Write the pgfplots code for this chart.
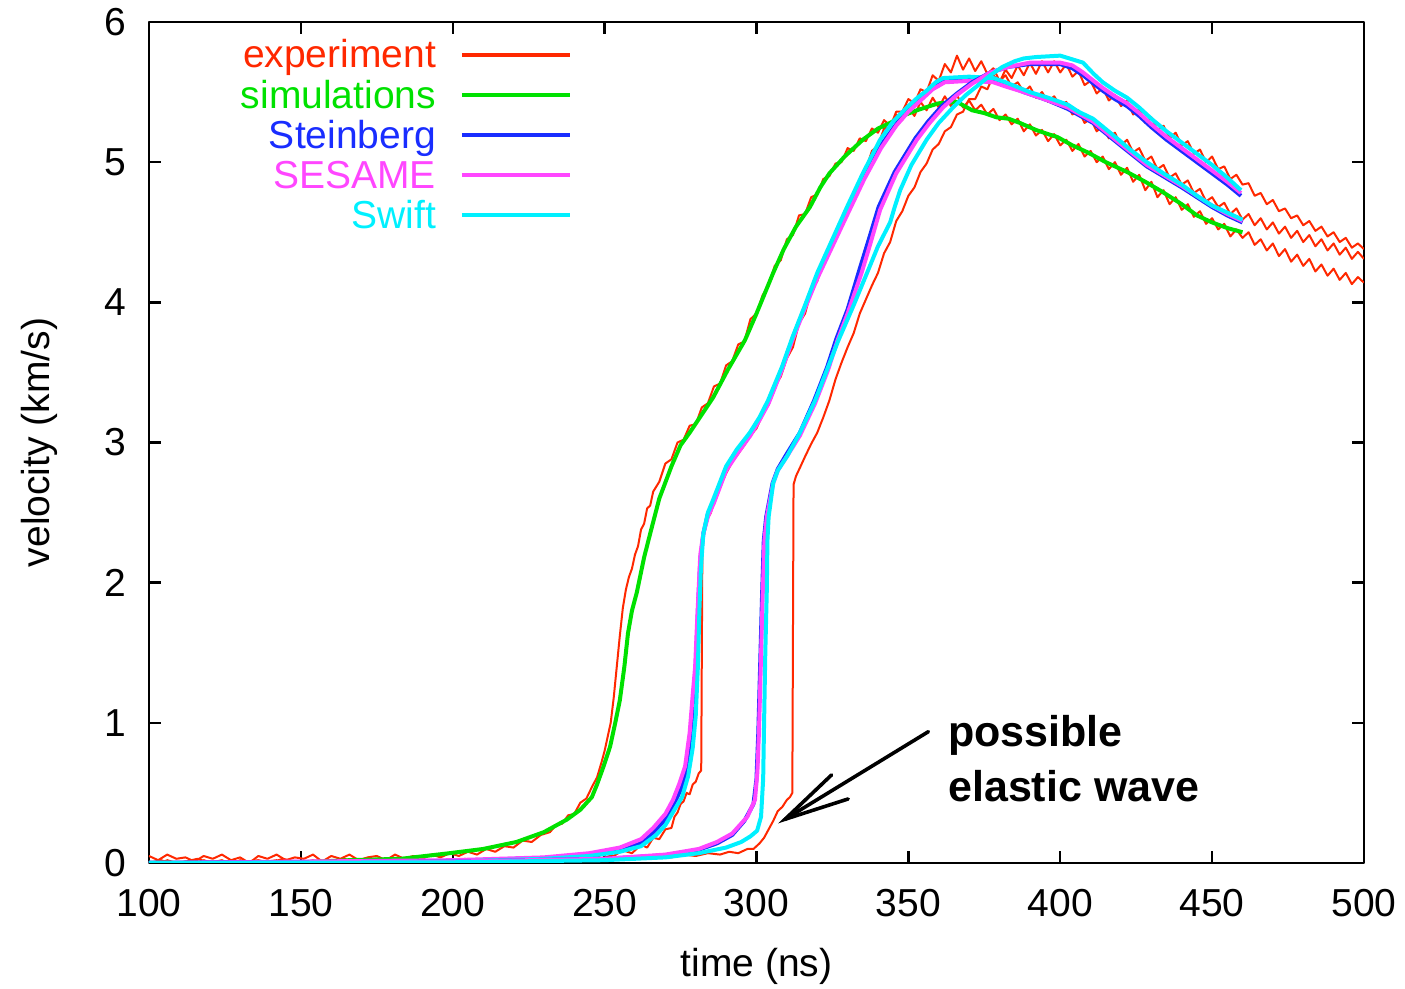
\documentclass[border=0pt]{standalone}
\usepackage{fontspec}
\setmainfont{Liberation Sans}
\usepackage{pgfplots}
\pgfplotsset{compat=1.18}
\definecolor{expred}{RGB}{255,40,0}
\definecolor{simgreen}{RGB}{0,225,0}
\definecolor{steinblue}{RGB}{25,45,255}
\definecolor{sesmag}{RGB}{255,70,255}
\definecolor{swcyan}{RGB}{0,240,255}
\newcommand{\lf}{\fontsize{19.5}{23}\selectfont}
\newcommand{\af}{\fontsize{21.5}{26}\selectfont\bfseries}
\begin{document}
\begin{tikzpicture}
\begin{axis}[
  scale only axis, width=607.5pt, height=420.5pt,
  xmin=100, xmax=500, ymin=0, ymax=6,
  xtick={100,150,...,500}, ytick={0,1,...,6},
  axis line style={line width=1.2pt},
  every tick/.style={black, line width=1.2pt},
  major tick length=6pt,
  tick align=inside, xtick pos=both, ytick pos=both,
  /pgf/number format/assume math mode=true,
  ticklabel style={font=\lf},
  xticklabel style={yshift=-9.5pt},
  yticklabel style={xshift=-8pt},
  label style={font=\lf},
  xlabel={time (ns)}, ylabel={velocity (km/s)},
  xlabel style={at={(axis description cs:0.5,-0.1345)}, anchor=base},
  ylabel style={at={(axis description cs:-0.0815,0.5)}, anchor=base},
  no markers, line join=round,
]
% ---- experiment A ----
\addplot[expred, line width=1pt] coordinates {
(100,0.05)(103,0.02)(106,0.06)(109,0.03)(112,0.04)(115,0.01)(118,0.05)(121,0.03)(124,0.06)(127,0.02)(130,0.04)(133,0.00)(136,0.05)(139,0.03)(142,0.06)(145,0.02)(148,0.04)(151,0.03)(154,0.06)(157,0.01)(160,0.05)(163,0.03)(166,0.06)(169,0.02)(172,0.04)(175,0.05)(178,0.02)(181,0.06)(184,0.03)(187,0.05)(190,0.03)(193,0.06)(196,0.04)(199,0.07)
(202,0.05)(205,0.08)(208,0.06)(211,0.10)(214,0.08)(217,0.12)(220,0.11)(223,0.16)(226,0.15)(229,0.20)(232,0.22)(234,0.27)(236,0.28)(238,0.34)(240,0.35)(242,0.43)(244,0.46)(246,0.55)(247.5,0.61)(249,0.72)(250,0.80)(251,0.90)(252,1.00)(253,1.18)(254,1.40)(255,1.62)(256,1.82)(257,1.95)(258,2.04)(259,2.10)(260,2.20)(261,2.26)(262,2.38)(263,2.42)(264,2.53)(265,2.55)(266,2.65)(268,2.72)(270,2.85)(272,2.88)(274,3.00)(276,3.02)(278,3.12)(280,3.13)(282,3.25)(284,3.28)(286,3.40)(288,3.42)(290,3.55)(292,3.58)(294,3.70)(296,3.72)(298,3.88)(300,3.92)
(302,4.05)(304,4.12)(306,4.26)(308,4.30)(310,4.45)(312,4.48)(314,4.62)(316,4.63)(318,4.75)(320,4.77)(322,4.88)(324,4.90)(326,4.99)(328,5.00)(330,5.10)(332,5.08)(334,5.17)(336,5.15)(338,5.24)(340,5.21)(342,5.30)(344,5.26)(346,5.34)(348,5.30)(350,5.39)(352,5.33)(354,5.43)(356,5.37)(358,5.46)(360,5.39)(362,5.47)(364,5.40)(366,5.48)(368,5.39)(370,5.44)(372,5.37)(374,5.41)(376,5.34)(378,5.38)(380,5.30)(382,5.34)(384,5.27)(386,5.31)(388,5.22)(390,5.27)(392,5.19)(394,5.23)(396,5.15)(398,5.20)(400,5.12)
(402,5.16)(404,5.08)(406,5.13)(408,5.04)(410,5.08)(412,5.00)(414,5.04)(416,4.95)(418,5.00)(420,4.91)(422,4.96)(424,4.86)(426,4.91)(428,4.80)(430,4.86)(432,4.75)(434,4.80)(436,4.70)(438,4.75)(440,4.66)(442,4.70)(444,4.61)(446,4.65)(448,4.56)(450,4.60)(452,4.52)(454,4.56)(456,4.47)(458,4.52)(460,4.46)(462,4.50)(464,4.41)(466,4.45)(468,4.37)(470,4.42)(472,4.33)(474,4.38)(476,4.29)(478,4.34)(480,4.26)(482,4.31)(484,4.22)(486,4.27)(488,4.19)(490,4.24)(492,4.16)(494,4.21)(496,4.13)(498,4.18)(500,4.14)
};
% ---- experiment B ----
\addplot[expred, line width=1pt] coordinates {
(100,0.01)(103,-0.01)(106,0.02)(109,0.00)(112,0.01)(115,-0.02)(118,0.02)(121,0.00)(124,0.01)(127,-0.01)(130,0.02)(133,0.00)(136,-0.02)(139,0.01)(142,0.02)(145,-0.01)(148,0.01)(151,0.00)(154,0.02)(157,-0.02)(160,0.01)(163,0.00)(166,0.02)(169,-0.01)(172,0.01)(175,0.00)(178,0.02)(181,-0.01)(184,0.01)(187,0.00)(190,0.02)(193,-0.01)(196,0.02)(199,0.00)
(202,0.02)(205,0.01)(208,0.03)(211,0.00)(214,0.02)(217,0.01)(220,0.03)(223,0.01)(226,0.03)(229,0.02)(232,0.04)(235,0.02)(238,0.05)(241,0.03)(244,0.05)(247,0.04)(250,0.07)(253,0.05)(256,0.09)(259,0.07)(262,0.13)(264,0.11)(266,0.18)(268,0.17)(270,0.24)(272,0.25)(273,0.33)(274,0.36)(275,0.42)(276,0.44)(277,0.50)(278,0.49)(279,0.56)(280,0.58)(281,0.64)(281.8,0.66)(282.2,2.30)(283,2.38)(284,2.46)(285,2.50)(286,2.58)(287,2.62)(288,2.68)(290,2.78)(292,2.86)(294,2.92)(296,2.98)(298,3.05)(300,3.10)
(302,3.20)(304,3.27)(306,3.40)(308,3.47)(310,3.60)(312,3.68)(314,3.85)(316,3.92)(318,4.08)(320,4.15)(322,4.28)(324,4.35)(326,4.48)(328,4.55)(330,4.68)(332,4.72)(334,4.85)(336,4.95)(338,5.08)(340,5.12)(342,5.24)(344,5.25)(346,5.36)(348,5.36)(350,5.45)(352,5.42)(354,5.52)(356,5.50)(358,5.62)(360,5.58)(362,5.70)(364,5.64)(366,5.76)(368,5.66)(370,5.74)(372,5.65)(374,5.72)(376,5.63)(378,5.67)(380,5.58)(382,5.62)(384,5.54)(386,5.57)(388,5.50)(390,5.54)(392,5.46)(394,5.50)(396,5.43)(398,5.47)(400,5.40)
(402,5.43)(404,5.34)(406,5.37)(408,5.28)(410,5.31)(412,5.22)(414,5.26)(416,5.17)(418,5.21)(420,5.12)(422,5.16)(424,5.07)(426,5.10)(428,5.01)(430,5.04)(432,4.95)(434,4.98)(436,4.89)(438,4.92)(440,4.84)(442,4.87)(444,4.78)(446,4.81)(448,4.72)(450,4.75)(452,4.68)(454,4.71)(456,4.63)(458,4.67)(460,4.59)(462,4.63)(464,4.55)(466,4.60)(468,4.52)(470,4.57)(472,4.49)(474,4.54)(476,4.46)(478,4.51)(480,4.43)(482,4.48)(484,4.40)(486,4.45)(488,4.37)(490,4.42)(492,4.34)(494,4.39)(496,4.31)(498,4.36)(500,4.31)
};
% ---- experiment C ----
\addplot[expred, line width=1pt] coordinates {
(100,0.00)(104,0.02)(108,-0.01)(112,0.01)(116,0.03)(120,0.00)(124,0.02)(128,-0.02)(132,0.01)(136,0.02)(140,0.00)(144,0.03)(148,0.01)(152,-0.01)(156,0.02)(160,0.00)(164,0.03)(168,0.01)(172,0.02)(176,-0.01)(180,0.02)(184,0.00)(188,0.03)(192,0.01)(196,0.02)(200,0.00)
(204,0.03)(208,0.01)(212,0.03)(216,0.01)(220,0.02)(224,0.04)(228,0.02)(232,0.03)(236,0.05)(240,0.02)(244,0.04)(248,0.03)(252,0.05)(256,0.03)(260,0.05)(264,0.04)(268,0.06)(272,0.04)(276,0.06)(280,0.05)(284,0.07)(288,0.06)(291,0.08)(294,0.07)(297,0.10)(299,0.10)(301,0.14)(302.5,0.18)(304,0.24)(305.5,0.30)(307,0.37)(308.5,0.40)(310,0.45)(311,0.47)(311.8,0.50)(312.2,2.70)(313,2.76)(314.3,2.82)(316,2.90)(318,2.99)(320,3.07)(322,3.18)(324,3.30)(326,3.45)(328,3.57)(330,3.68)(332,3.78)(334,3.92)(336,4.02)(338,4.12)(340,4.21)(342,4.35)(344,4.43)(346,4.58)(348,4.65)(350,4.76)
(352,4.82)(354,4.93)(356,4.99)(358,5.09)(360,5.13)(362,5.22)(364,5.25)(366,5.34)(368,5.36)(370,5.45)(372,5.45)(374,5.54)(376,5.52)(378,5.62)(380,5.57)(382,5.66)(384,5.60)(386,5.69)(388,5.62)(390,5.71)(392,5.63)(394,5.72)(396,5.64)(398,5.72)(400,5.64)(402,5.70)(404,5.61)(406,5.65)(408,5.55)(410,5.58)(412,5.49)(414,5.53)(416,5.44)(418,5.48)(420,5.40)(422,5.44)(424,5.34)(426,5.38)(428,5.28)(430,5.32)(432,5.23)(434,5.26)(436,5.17)(438,5.21)(440,5.12)(442,5.15)(444,5.06)(446,5.09)(448,5.00)(450,5.04)
(452,4.95)(454,4.97)(456,4.88)(458,4.91)(460,4.84)(462,4.85)(464,4.76)(466,4.78)(468,4.70)(470,4.73)(472,4.65)(474,4.67)(476,4.60)(478,4.62)(480,4.55)(482,4.58)(484,4.51)(486,4.54)(488,4.47)(490,4.50)(492,4.43)(494,4.46)(496,4.39)(498,4.42)(500,4.38)
};
% ---- simulation A (green) ----
\addplot[simgreen, line width=2pt] coordinates {
(100,0)(150,0.005)(166,0.02)(183,0.03)(199,0.07)(210,0.10)(221,0.15)(230,0.22)(237.6,0.31)(242,0.38)(245.8,0.47)(247.5,0.56)(249.5,0.68)(251.8,0.83)(253.5,1.0)(255,1.16)(256.5,1.4)(257.7,1.64)(259,1.8)(260.6,1.93)(263,2.18)(265,2.35)(268,2.6)(272,2.83)(275,2.98)(278,3.07)(282,3.2)(285.7,3.32)(290.6,3.52)(296.2,3.73)(300,3.92)(305.5,4.21)(309,4.38)(313,4.54)(317.6,4.68)(321,4.82)(324,4.92)(329,5.04)(335,5.16)(340,5.24)(344,5.28)(348,5.33)(352.8,5.37)(357,5.40)(360,5.42)(366,5.43)(371,5.37)(375,5.35)(379,5.32)(383,5.31)(386.7,5.28)(392,5.23)(396,5.20)(399,5.18)(404,5.12)(409,5.07)(415,5.00)(422,4.93)(428,4.86)(433.5,4.79)(440,4.70)(445,4.62)(450,4.57)(455,4.53)(460,4.50)
};
% ---- Steinberg B (blue) ----
\addplot[steinblue, line width=2pt] coordinates {
(100,0)(200,0.015)(230,0.035)(245,0.06)(255,0.095)(262,0.14)(266,0.22)(270,0.31)(272.5,0.41)(275,0.52)(277,0.67)(278.5,0.88)(279.5,1.2)(280.2,1.5)(280.8,1.85)(281.5,2.15)(282.5,2.35)(284,2.49)(286,2.58)(290,2.82)(294,2.94)(298,3.06)(301,3.17)(304,3.29)(308.4,3.53)(312,3.75)(316,3.97)(320,4.19)(325,4.43)(330,4.66)(335.5,4.90)(341,5.12)(346,5.27)(350,5.37)(354,5.45)(358,5.53)(362,5.58)(370,5.59)(378,5.58)(382,5.55)(388,5.50)(396,5.44)(402.5,5.38)(410.8,5.28)(418.7,5.14)(428.5,4.97)(440,4.82)(450,4.68)(455,4.62)(460,4.57)
};
% ---- SESAME B (magenta) ----
\addplot[sesmag, line width=2pt] coordinates {
(100,0)(200,0.02)(230,0.04)(245,0.07)(255,0.11)(262,0.17)(266,0.25)(270,0.35)(272.5,0.45)(274.5,0.56)(276.5,0.69)(278,0.93)(279,1.2)(279.8,1.4)(280.3,1.65)(280.8,1.88)(281.5,2.2)(282.5,2.35)(284,2.47)(286,2.57)(290,2.8)(294,2.93)(298,3.05)(301,3.16)(304,3.28)(308.4,3.52)(312,3.74)(316,3.96)(320,4.17)(325,4.40)(330,4.63)(335.5,4.88)(341,5.1)(346,5.26)(350,5.36)(354,5.44)(358,5.52)(362,5.57)(370,5.58)(378,5.57)(382,5.54)(388,5.50)(396,5.44)(402.5,5.39)(410.8,5.29)(418.7,5.15)(428.5,4.98)(440,4.83)(450,4.69)(455,4.63)(460,4.58)
};
% ---- Swift B (cyan) ----
\addplot[swcyan, line width=2pt] coordinates {
(100,0)(150,0.0)(200,0.01)(230,0.03)(245,0.05)(255,0.08)(262,0.12)(267,0.2)(270,0.27)(273,0.38)(275.5,0.47)(277.5,0.62)(279,0.82)(280,1.05)(280.7,1.4)(281.2,1.8)(281.7,2.1)(282.5,2.35)(284,2.5)(285.7,2.59)(290,2.83)(293.5,2.95)(297.8,3.07)(301,3.18)(303.8,3.30)(308.4,3.54)(312,3.76)(316,3.98)(320,4.21)(325,4.45)(329.8,4.68)(335,4.92)(340.7,5.16)(345,5.29)(349.5,5.39)(353,5.46)(356,5.51)(359,5.57)(361.4,5.60)(370,5.61)(378,5.60)(382,5.57)(387.7,5.52)(390,5.50)(396,5.46)(402.5,5.41)(406,5.36)(410.8,5.31)(418.7,5.17)(423,5.09)(428.5,5.00)(434,4.92)(440,4.84)(445,4.76)(450,4.69)(455,4.64)(460,4.59)
};
% ---- Steinberg C (blue) ----
\addplot[steinblue, line width=2pt] coordinates {
(100,0)(200,0.01)(250,0.03)(270,0.055)(281,0.095)(287,0.14)(292,0.2)(296,0.3)(299,0.42)(300,0.6)(300.6,0.93)(301.2,1.4)(301.8,1.88)(302.4,2.3)(303.2,2.47)(305.3,2.71)(307,2.81)(310,2.92)(314.3,3.07)(319,3.30)(323.3,3.54)(326.3,3.74)(330,3.95)(334,4.24)(337,4.45)(340.2,4.68)(345.5,4.93)(352.3,5.17)(356.5,5.29)(361,5.40)(366,5.49)(371,5.57)(377,5.64)(383,5.68)(390,5.70)(400,5.70)(404,5.67)(407.5,5.62)(411,5.56)(414,5.51)(418,5.45)(422,5.40)(426,5.33)(430,5.25)(435,5.16)(440,5.08)(445,5.00)(450,4.92)(455,4.84)(459.5,4.76)
};
% ---- SESAME C (magenta) ----
\addplot[sesmag, line width=2pt] coordinates {
(100,0)(200,0.01)(250,0.03)(270,0.06)(281,0.1)(287,0.15)(292,0.21)(297,0.33)(299.5,0.45)(300.3,0.65)(300.8,0.93)(301.4,1.4)(302,1.88)(302.6,2.3)(303.4,2.47)(305.5,2.71)(307,2.8)(310,2.9)(314.3,3.05)(319.3,3.28)(323.6,3.52)(326.7,3.73)(330,3.92)(334.6,4.21)(337.5,4.42)(340.7,4.66)(346,4.92)(352.8,5.16)(357,5.28)(361.4,5.39)(366,5.48)(371,5.56)(377,5.64)(383,5.68)(390,5.71)(400,5.71)(404,5.69)(407.5,5.64)(411,5.58)(414,5.53)(418,5.47)(422,5.42)(426,5.35)(430,5.27)(435,5.18)(440,5.10)(445,5.02)(450,4.94)(455,4.86)(459.5,4.78)
};
% ---- Swift C (cyan) ----
\addplot[swcyan, line width=2pt] coordinates {
(100,0)(200,0.005)(250,0.02)(270,0.04)(281,0.07)(290,0.11)(295,0.15)(298,0.19)(300.2,0.23)(301.5,0.33)(302.2,0.6)(302.5,1.0)(302.9,1.5)(303.4,1.95)(303.6,2.3)(304,2.47)(305.5,2.71)(307,2.8)(310,2.9)(314.3,3.07)(319.3,3.30)(323.6,3.54)(326.8,3.72)(328,3.78)(332,3.98)(336.4,4.21)(340,4.40)(344,4.57)(345.5,4.68)(347.3,4.80)(351,4.98)(356,5.16)(360,5.28)(364.7,5.39)(369,5.48)(373.6,5.56)(377,5.62)(381,5.68)(385,5.72)(388,5.74)(392,5.75)(400,5.76)(403,5.74)(407.5,5.71)(411,5.63)(414,5.57)(418,5.51)(422,5.46)(426,5.39)(430,5.31)(435,5.22)(440,5.14)(445,5.06)(450,4.98)(455,4.89)(459.5,4.80)
};
% ---- legend (gnuplot style: text right-aligned, sample to the right) ----
\node[anchor=base east, inner sep=0pt, text=expred, font=\lf] at (axis cs:194.6,5.672) {experiment};
\draw[expred, line width=1.6pt] (axis cs:203,5.765) -- (axis cs:238.6,5.765);
\node[anchor=base east, inner sep=0pt, text=simgreen, font=\lf] at (axis cs:194.6,5.386) {simulations};
\draw[simgreen, line width=1.6pt] (axis cs:203,5.479) -- (axis cs:238.6,5.479);
\node[anchor=base east, inner sep=0pt, text=steinblue, font=\lf] at (axis cs:194.6,5.101) {Steinberg};
\draw[steinblue, line width=1.6pt] (axis cs:203,5.194) -- (axis cs:238.6,5.194);
\node[anchor=base east, inner sep=0pt, text=sesmag, font=\lf] at (axis cs:194.6,4.815) {SESAME};
\draw[sesmag, line width=1.6pt] (axis cs:203,4.908) -- (axis cs:238.6,4.908);
\node[anchor=base east, inner sep=0pt, text=swcyan, font=\lf] at (axis cs:194.6,4.530) {Swift};
\draw[swcyan, line width=1.6pt] (axis cs:203,4.623) -- (axis cs:238.6,4.623);
% ---- annotation ----
\draw[black, line width=1.8pt, line cap=round] (axis cs:356.6,0.937) -- (axis cs:309.4,0.312);
\draw[black, line width=1.8pt, line cap=round, line join=miter] (axis cs:324.7,0.628) -- (axis cs:309.4,0.312) -- (axis cs:330.2,0.457);
\node[anchor=base west, inner sep=0pt, font=\af] at (axis cs:363,0.830) {possible};
\node[anchor=base west, inner sep=0pt, font=\af] at (axis cs:363,0.437) {elastic wave};
\end{axis}
\pgfresetboundingbox
\useasboundingbox (-74.5pt,-63pt) rectangle (628pt,431.5pt);
\end{tikzpicture}
\end{document}
